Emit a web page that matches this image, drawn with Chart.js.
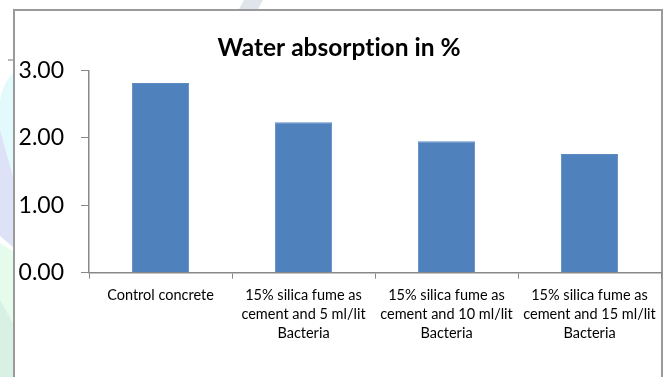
<!DOCTYPE html>
<html>
<head>
<meta charset="utf-8">
<script src="https://cdn.jsdelivr.net/npm/chart.js@4/dist/chart.umd.min.js"></script>
<style>
  html, body { margin: 0; padding: 0; background: #ffffff; }
  #wrap { width: 666px; height: 377px; }
</style>
</head>
<body>
<div id="wrap"><canvas id="c" width="666" height="377"></canvas></div>
<script>
// Mix categories (multi-line axis labels)
const categories = [
  ["Control concrete"],
  ["15% silica fume as", "cement and 5 ml/lit", "Bacteria"],
  ["15% silica fume as", "cement and 10 ml/lit", "Bacteria"],
  ["15% silica fume as", "cement and 15 ml/lit", "Bacteria"]
];
// Water absorption (%) for each mix
const absorption = [2.81, 2.23, 1.95, 1.76];
// Value axis ticks
const yTicks = [0, 1, 2, 3];
const chartTitle = "Water absorption in %";

// Page backdrop, chart frame and title
const framePlugin = {
  id: 'frame',
  beforeDraw(chart) {
    const ctx = chart.ctx;
    ctx.save();
    // faint decorative shapes behind the frame
    ctx.fillStyle = '#dfe5ea';
    ctx.beginPath();
    ctx.moveTo(244, 0); ctx.lineTo(263, 0); ctx.lineTo(257, 11); ctx.lineTo(238, 11);
    ctx.closePath(); ctx.fill();
    ctx.fillStyle = '#e2fafb';
    ctx.beginPath();
    ctx.moveTo(0, 100); ctx.quadraticCurveTo(4, 80, 14, 72); ctx.lineTo(14, 180); ctx.lineTo(0, 130);
    ctx.closePath(); ctx.fill();
    ctx.fillStyle = '#dee2f6';
    ctx.beginPath();
    ctx.moveTo(0, 130); ctx.lineTo(14, 180); ctx.lineTo(14, 248); ctx.lineTo(0, 236);
    ctx.closePath(); ctx.fill();
    ctx.fillStyle = '#e5fbec';
    ctx.beginPath();
    ctx.moveTo(0, 243); ctx.lineTo(14, 252); ctx.lineTo(14, 377); ctx.lineTo(0, 377);
    ctx.closePath(); ctx.fill();
    ctx.fillStyle = '#d9f1e5';
    ctx.beginPath();
    ctx.moveTo(0, 300); ctx.lineTo(14, 325); ctx.lineTo(14, 377); ctx.lineTo(0, 377);
    ctx.closePath(); ctx.fill();
    ctx.fillStyle = '#b8b8b8';
    ctx.fillRect(8, 59, 5, 2);
    // chart frame
    ctx.fillStyle = '#ffffff';
    ctx.fillRect(14, 10, 648, 370);
    ctx.strokeStyle = '#9a9a9a';
    ctx.lineWidth = 2;
    ctx.strokeRect(14, 10, 648, 372);
    ctx.restore();
  },
  afterDraw(chart) {
    const ctx = chart.ctx;
    ctx.save();
    ctx.fillStyle = '#000000';
    ctx.font = 'bold 24.5px Lato';
    if ('letterSpacing' in ctx) ctx.letterSpacing = '0.01px';
    ctx.textAlign = 'center';
    ctx.textBaseline = 'alphabetic';
    ctx.fillText(chartTitle, 339, 56);
    ctx.restore();
  }
};

const axisColor = '#888888';

new Chart(document.getElementById('c'), {
  type: 'bar',
  data: {
    labels: categories,
    datasets: [{
      data: absorption,
      backgroundColor: '#4f81bd',
      borderColor: '#5d8cc4',
      borderWidth: 1,
      barPercentage: 0.4,
      categoryPercentage: 1.0
    }]
  },
  options: {
    responsive: false,
    animation: false,
    devicePixelRatio: 1,
    layout: { padding: { top: 70.3, right: 5, bottom: 0, left: 0 } },
    plugins: {
      legend: { display: false },
      tooltip: { enabled: false },
      title: { display: false }
    },
    scales: {
      x: {
        offset: true,
        grid: {
          offset: true,
          drawOnChartArea: false,
          drawTicks: true,
          tickLength: 6,
          color: axisColor,
          lineWidth: 1
        },
        border: { color: axisColor, width: 1.5 },
        ticks: {
          color: '#000000',
          font: { family: 'Lato', size: 14.5, lineHeight: 19 / 14.5 },
          padding: 7,
          maxRotation: 0,
          autoSkip: false
        },
        afterFit(scale) { scale.height = 104.3; }
      },
      y: {
        min: 0,
        max: 3,
        afterBuildTicks(scale) { scale.ticks = yTicks.map(v => ({ value: v })); },
        grid: {
          drawOnChartArea: false,
          drawTicks: true,
          tickLength: 8,
          color: axisColor,
          lineWidth: 1
        },
        border: { color: axisColor, width: 1.5 },
        ticks: {
          color: '#000000',
          font: { family: 'Lato', size: 23 },
          padding: 17,
          callback: v => Number(v).toFixed(2)
        },
        afterFit(scale) { scale.width = 89; }
      }
    }
  },
  plugins: [framePlugin]
});
</script>
</body>
</html>
